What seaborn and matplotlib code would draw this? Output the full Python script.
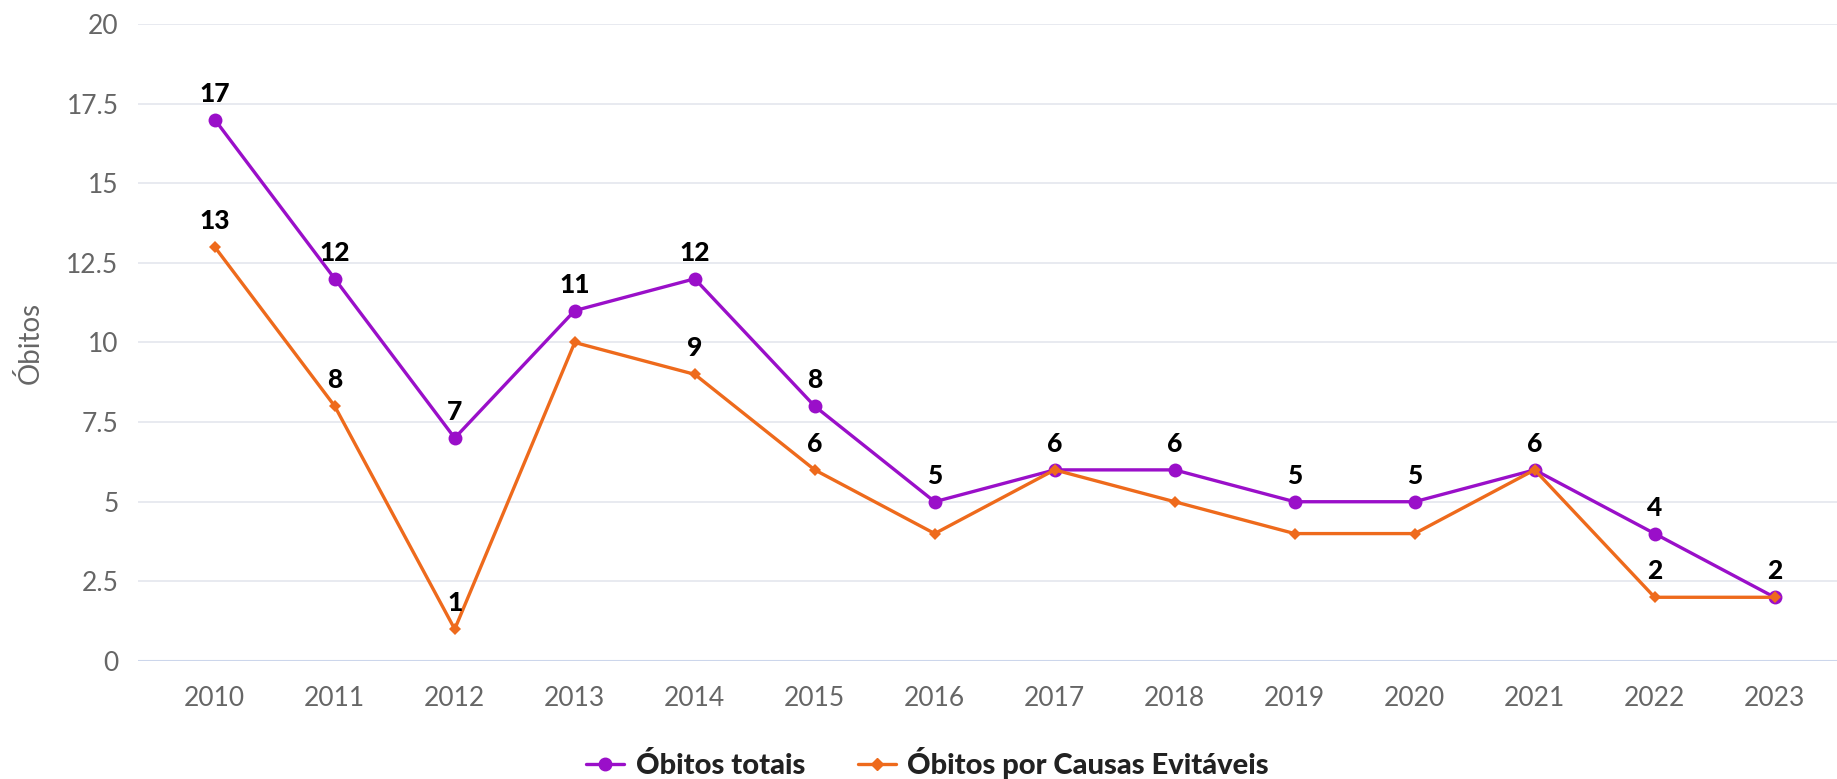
"""Óbitos totais vs óbitos por causas evitáveis, 2010-2023."""

import matplotlib.pyplot as plt
import pandas as pd
import seaborn as sns
from matplotlib.lines import Line2D

YEARS = ["2010", "2011", "2012", "2013", "2014", "2015", "2016",
         "2017", "2018", "2019", "2020", "2021", "2022", "2023"]
TOTAL = [17, 12, 7, 11, 12, 8, 5, 6, 6, 5, 5, 6, 4, 2]
EVITAVEIS = [13, 8, 1, 10, 9, 6, 4, 6, 5, 4, 4, 6, 2, 2]
# which data labels are shown (others hidden where they would collide)
SHOW_TOTAL = [1, 1, 1, 1, 1, 1, 1, 0, 1, 1, 1, 0, 1, 0]
SHOW_EVIT = [1, 1, 1, 0, 1, 1, 0, 1, 0, 0, 0, 1, 1, 1]
Y_TICKS = [0, 2.5, 5, 7.5, 10, 12.5, 15, 17.5, 20]

PURPLE = "#9a0fc9"
ORANGE = "#ee6a1c"
GRID = "#e6e8ef"
AXIS = "#ccd6eb"
TEXT = "#666666"


def main() -> None:
    sns.set_theme(style="white")
    plt.rcParams["font.family"] = ["Lato", "DejaVu Sans"]

    df = pd.DataFrame({"pos": range(len(YEARS)), "total": TOTAL, "evit": EVITAVEIS})

    fig = plt.figure(figsize=(18.37, 7.79), dpi=100)
    ax = fig.add_axes([0.0751, 0.1515, 0.9249, 0.8177])

    sns.lineplot(data=df, x="pos", y="total", ax=ax, color=PURPLE, lw=2.4,
                 marker="o", markersize=10, markeredgewidth=0, zorder=3)
    sns.lineplot(data=df, x="pos", y="evit", ax=ax, color=ORANGE, lw=2.4,
                 marker="D", markersize=6.5, markeredgewidth=0, zorder=4)

    for i in range(len(YEARS)):
        if SHOW_TOTAL[i]:
            ax.annotate(str(TOTAL[i]), (i, TOTAL[i]), xytext=(0, 10),
                        textcoords="offset points", ha="center", va="bottom",
                        fontsize=19, fontweight="black", color="black", zorder=5)
        if SHOW_EVIT[i]:
            ax.annotate(str(EVITAVEIS[i]), (i, EVITAVEIS[i]), xytext=(0, 10),
                        textcoords="offset points", ha="center", va="bottom",
                        fontsize=19, fontweight="black", color="black", zorder=5)

    ax.set_xlim(-0.64, 13.52)
    ax.set_ylim(0, 20)
    ax.set_yticks(Y_TICKS)
    ax.set_yticklabels([f"{t:g}" for t in Y_TICKS])
    ax.set_xticks(range(len(YEARS)))
    ax.set_xticklabels(YEARS)
    ax.set_xticks([i - 0.5 for i in range(len(YEARS) + 1)], minor=True)

    for y in Y_TICKS[1:]:
        ax.axhline(y, color=GRID, lw=1.3, zorder=0)
    ax.axhline(0, color=AXIS, lw=1.5, zorder=1)

    for side in ["top", "right", "left", "bottom"]:
        ax.spines[side].set_visible(False)

    ax.tick_params(axis="y", length=0, pad=14, labelsize=19, labelcolor=TEXT)
    ax.tick_params(axis="x", which="major", length=0, pad=18, labelsize=19,
                   labelcolor=TEXT)
    ax.tick_params(axis="x", which="minor", length=12, width=1.5, color=AXIS,
                   direction="out")

    ax.set_xlabel("")
    ax.set_ylabel("Óbitos", fontsize=20, color=TEXT, labelpad=16)

    handles = [
        Line2D([], [], color=PURPLE, lw=2.4, marker="o", markersize=9),
        Line2D([], [], color=ORANGE, lw=2.4, marker="D", markersize=6),
    ]
    fig.legend(handles, ["Óbitos totais", "Óbitos por Causas Evitáveis"],
               loc="center", bbox_to_anchor=(0.505, 0.02), ncol=2, frameon=False,
               handlelength=1.3, handletextpad=0.4, columnspacing=1.8,
               prop={"size": 21, "weight": "black"}, labelcolor="#222222")

    fig.savefig("out.png", dpi=100)
    plt.close(fig)


if __name__ == "__main__":
    main()
